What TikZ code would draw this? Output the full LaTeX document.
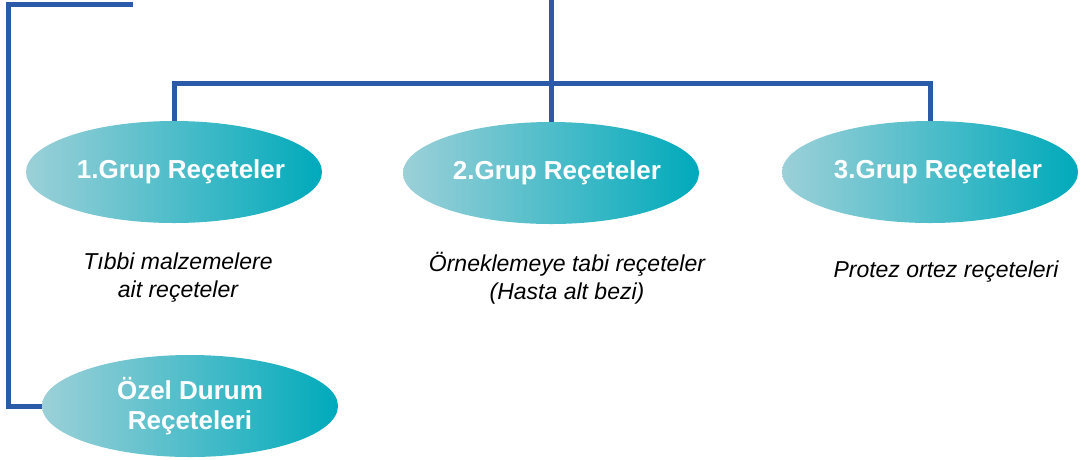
\documentclass[tikz,border=0pt]{standalone}
\usepackage{fontspec}
\setmainfont{Liberation Sans}
\usetikzlibrary{shapes.geometric}

\definecolor{linkblue}{HTML}{2B5BA8}
\definecolor{tealleft}{HTML}{9CD0D8}
\definecolor{tealright}{HTML}{00AABB}

% text slightly right of the ellipse centre
\newcommand{\grupyazi}[2]{\makebox[0pt][c]{\hspace*{#1}#2}}

\tikzset{
	grup/.style={ellipse, minimum width=296pt, minimum height=102pt, inner sep=0pt,
		left color=tealleft, right color=tealright, draw=none,
		text=white, align=center, font=\fontsize{26}{30}\selectfont\bfseries},
	aciklama/.style={align=center, font=\fontsize{23}{28}\selectfont\itshape},
	link/.style={linkblue, line width=5pt, line join=miter}
}

\begin{document}
\begin{tikzpicture}[x=1pt,y=-1pt]
	\useasboundingbox (0,0) rectangle (1086,459);

	% groups
	\node[grup] (g1) at (174,172) {\grupyazi{14pt}{1.Grup Reçeteler}};
	\node[grup] (g2) at (551,173) {\grupyazi{12pt}{2.Grup Reçeteler}};
	\node[grup] (g3) at (930,172) {\grupyazi{16pt}{3.Grup Reçeteler}};
	\node[grup] (ozel) at (190,406) {Özel Durum\\Reçeteleri};

	% texts
	\node[aciklama] (t1) at (178,278) {Tıbbi malzemelere\\ait reçeteler};
	\node[aciklama] (t2) at (567,278) {Örneklemeye tabi reçeteler\\(Hasta alt bezi)};
	\node[aciklama] (t3) at (946,272) {Protez ortez reçeteleri};

	% links
	\coordinate (top) at (551,0);
	\coordinate (bar) at (551,83);
	\coordinate (stub) at (133,4);
	\draw[link] (top) -- (g2.north);
	\draw[link] (g1.north) |- (bar) -| (g3.north);
	\draw[link] (stub) -- ++(-125,0) |- (ozel.west);

\end{tikzpicture}
\end{document}
